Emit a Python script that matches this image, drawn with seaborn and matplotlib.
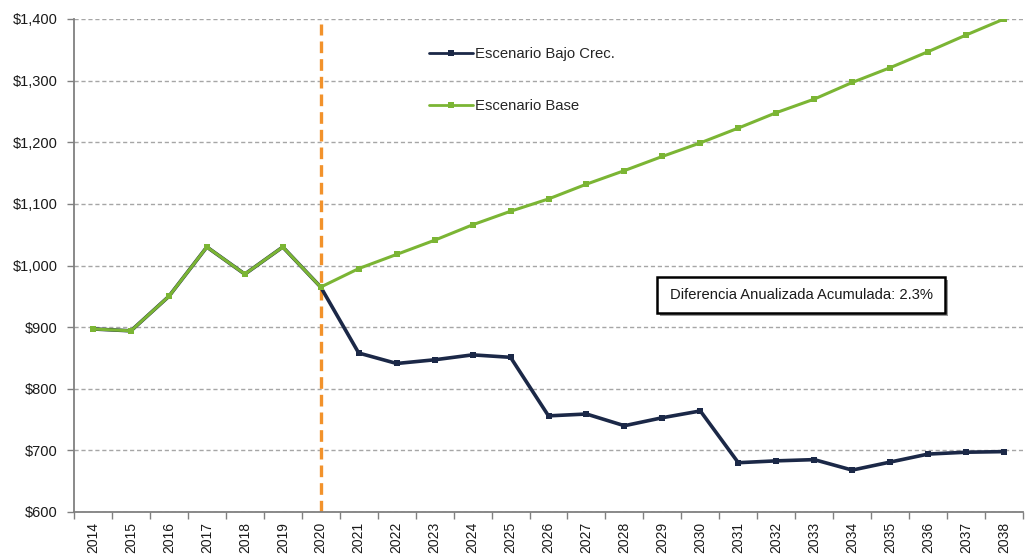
import matplotlib
matplotlib.use("Agg")
import matplotlib.pyplot as plt
import seaborn as sns
import pandas as pd
import numpy as np
from matplotlib.patches import Rectangle
from matplotlib.ticker import FuncFormatter, FixedLocator

years = list(range(2014, 2039))
base = [897, 894, 950, 1030, 986, 1030, 965, 995, 1018, 1041, 1066, 1088, 1108, 1132,
        1154, 1177, 1199, 1223, 1248, 1270, 1297, 1321, 1347, 1374, 1400]
bajo = [897, 894, 950, 1030, 986, 1030, 965, 858, 841, 847, 855, 851, 756, 759,
        740, 753, 764, 680, 683, 685, 668, 681, 694, 697, 698]
series_names = ["Escenario Bajo Crec.", "Escenario Base"]
y_ticks = [600, 700, 800, 900, 1000, 1100, 1200, 1300, 1400]
annotation = "Diferencia Anualizada Acumulada: 2.3%"
split_year = 2020

sns.set_theme(style="white")
plt.rcParams['font.family'] = ['Liberation Sans', 'DejaVu Sans']

df = pd.DataFrame({
    "year": years * 2,
    "value": bajo + base,
    "serie": [series_names[0]] * len(years) + [series_names[1]] * len(years),
})

fig = plt.figure(figsize=(10.31, 5.56), dpi=100)
ax = fig.add_axes([74 / 1031, 1 - 512 / 556, 949 / 1031, 493 / 556])

colors = {series_names[0]: "#1B2847", series_names[1]: "#7BB534"}
sns.lineplot(data=df, x="year", y="value", hue="serie", palette=colors,
             marker="s", markersize=5, markeredgewidth=0, ax=ax, legend=True)
for line, lw in zip(ax.lines, [2.6, 2.2]):
    line.set_linewidth(lw)

ax.set_xlim(years[0] - 0.5, years[-1] + 0.5)
ax.set_ylim(y_ticks[0], y_ticks[-1])
ax.set_yticks(y_ticks)
ax.yaxis.set_major_formatter(FuncFormatter(lambda v, p: f"${v:,.0f}"))
ax.set_xticks(years)
ax.set_xticklabels([str(y) for y in years], rotation=90)
ax.xaxis.set_minor_locator(FixedLocator([y - 0.5 for y in years] + [years[-1] + 0.5]))
ax.tick_params(axis="x", which="major", length=0, pad=7, labelsize=10, labelcolor="#1a1a1a")
ax.tick_params(axis="x", which="minor", length=5, width=1, color="#808080", bottom=True)
ax.tick_params(axis="y", which="major", length=5, width=1, color="#808080", left=True,
               pad=7, labelsize=10.5, labelcolor="#1a1a1a")
ax.set_xlabel("")
ax.set_ylabel("")

ax.grid(axis="y", color="#A6A6A6", linestyle=(0, (3, 2)), linewidth=1)
ax.grid(axis="x", visible=False)
ax.set_axisbelow(True)
for s in ["top", "right"]:
    ax.spines[s].set_visible(False)
for s in ["left", "bottom"]:
    ax.spines[s].set_color("#808080")
    ax.spines[s].set_linewidth(1.3)

ax.plot([split_year, split_year], [y_ticks[0], 1392], color="#F2922B",
        linestyle=(0, (3.5, 1.8)), linewidth=2.4, zorder=1)

handles, labels = ax.get_legend_handles_labels()
leg = ax.legend(handles, labels, loc="upper left", bbox_to_anchor=((422 - 74) / 949, 0.958),
                frameon=False, borderpad=0, labelspacing=2.55, handlelength=2.9,
                handletextpad=0.15, fontsize=10.7)
for h in leg.legend_handles:
    h.set_linewidth(2.0)
    h.set_markersize(4.5)

sx0, sy0, sw, sh = (657 - 74) / 949, (512 - 313) / 493, 288 / 949, 36 / 493
ax.add_patch(Rectangle((sx0 + 2.5 / 949, sy0 - 2.5 / 493), sw, sh, transform=ax.transAxes,
                       facecolor="#9a9a9a", edgecolor="none", zorder=4))
ax.add_patch(Rectangle((sx0, sy0), sw, sh, transform=ax.transAxes,
                       facecolor="white", edgecolor="black", linewidth=1.8, zorder=5))
ax.text(sx0 + sw / 2, sy0 + sh / 2, annotation, transform=ax.transAxes,
        ha="center", va="center", fontsize=10.6, color="#1a1a1a", zorder=6)

fig.savefig("out.png", dpi=100)
